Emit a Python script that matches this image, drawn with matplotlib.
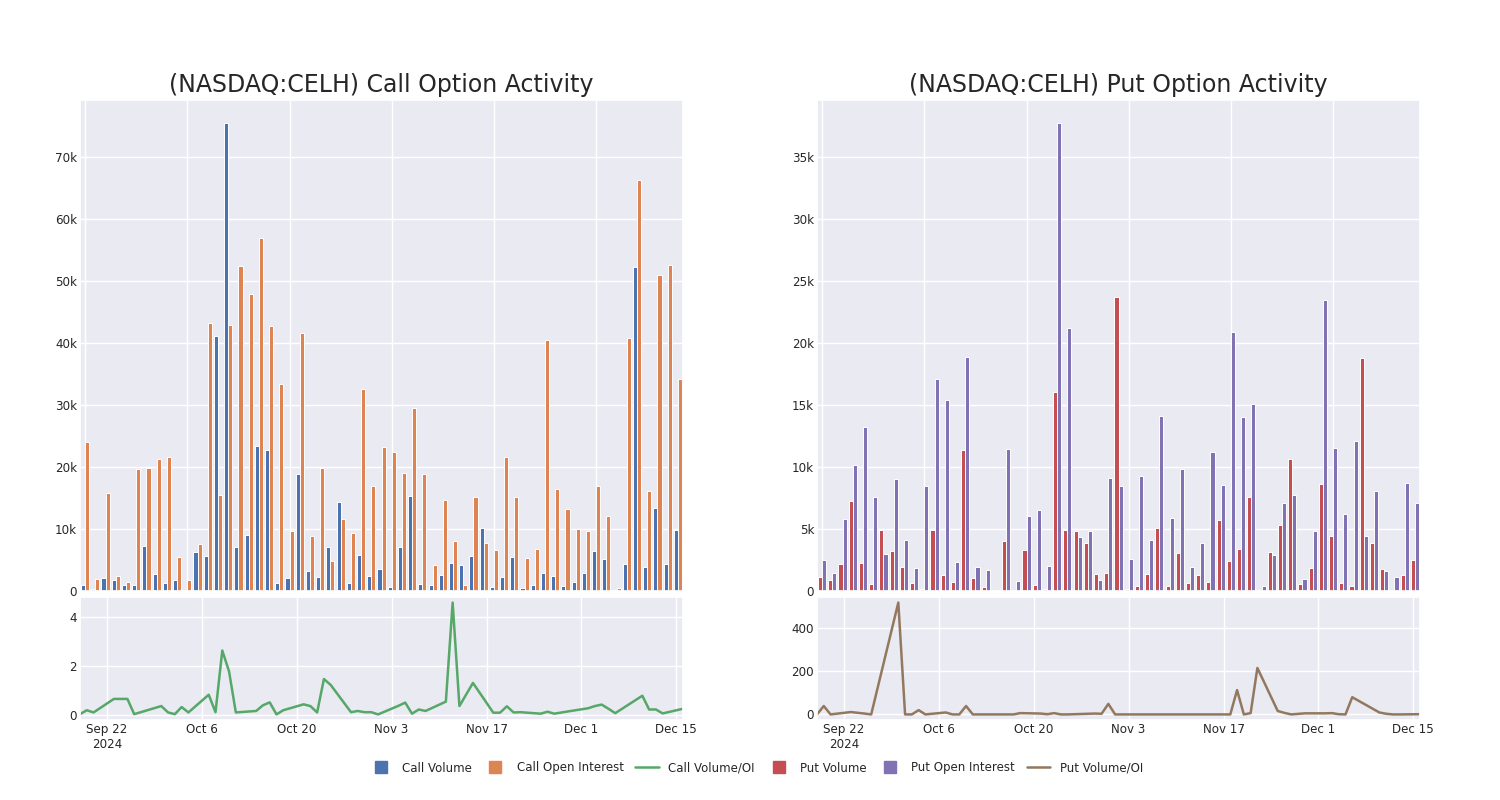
import matplotlib
matplotlib.use("Agg")
import matplotlib.pyplot as plt
import matplotlib.ticker as mticker
from matplotlib.lines import Line2D
import numpy as np
import pandas as pd
import seaborn as sns

sns.set_theme(style="darkgrid")
plt.rcParams['font.family'] = ['DejaVu Sans']

# ---------------- data ----------------
dates = ["2024-09-18", "2024-09-19", "2024-09-20", "2024-09-23", "2024-09-25", "2024-09-26",
         "2024-09-30", "2024-10-01", "2024-10-02", "2024-10-03", "2024-10-04",
         "2024-10-07", "2024-10-08", "2024-10-09", "2024-10-10", "2024-10-11",
         "2024-10-14", "2024-10-15", "2024-10-16", "2024-10-17", "2024-10-18",
         "2024-10-21", "2024-10-22", "2024-10-23", "2024-10-24", "2024-10-25",
         "2024-10-28", "2024-10-29", "2024-10-30", "2024-10-31", "2024-11-01",
         "2024-11-04", "2024-11-05", "2024-11-06", "2024-11-07", "2024-11-08",
         "2024-11-11", "2024-11-12", "2024-11-13", "2024-11-15",
         "2024-11-18", "2024-11-19", "2024-11-20", "2024-11-21", "2024-11-22",
         "2024-11-25", "2024-11-26", "2024-11-27", "2024-11-29",
         "2024-12-02", "2024-12-03", "2024-12-04", "2024-12-05", "2024-12-06",
         "2024-12-10", "2024-12-11", "2024-12-12", "2024-12-13", "2024-12-16"]

call_volume_k = [1.0, 0.3, 2.1, 1.7, 0.9, 1.0, 7.3, 2.75, 1.3, 1.8,
                 0.2, 6.3, 5.7, 41.1, 75.5, 7.1, 9.0, 23.4, 22.7, 1.35,
                 2.1, 18.9, 3.3, 2.2, 7.1, 14.4, 1.3, 5.8, 2.4, 3.5,
                 0.65, 7.1, 15.4, 1.1, 0.9, 2.6, 4.6, 4.2, 5.6, 10.25,
                 0.65, 2.3, 5.5, 0.55, 0.9, 2.9, 2.5, 0.8, 1.5, 2.9,
                 6.4, 5.1, 0.15, 4.3, 52.35, 3.9, 13.4, 4.4, 9.9]
call_oi_k = [24.0, 1.9, 15.9, 2.5, 1.4, 19.7, 19.9, 21.3, 21.7, 5.45,
             1.8, 7.6, 43.2, 15.5, 42.9, 52.5, 48.0, 57.0, 42.8, 33.5,
             9.7, 41.6, 8.8, 19.9, 4.8, 11.55, 9.3, 32.65, 16.9, 23.2,
             22.5, 19.1, 29.5, 18.9, 4.2, 14.7, 8.1, 0.9, 15.1, 7.8,
             6.7, 21.7, 15.2, 5.3, 6.75, 40.6, 16.5, 13.2, 10.0, 9.7,
             16.95, 12.1, 0.55, 40.8, 66.4, 16.1, 51.0, 52.6, 34.3]
call_ratio = [0.04, 0.20, 0.11, 0.66, 0.66, 0.04, 0.37, 0.11, 0.04, 0.33,
              0.11, 0.83, 0.12, 2.63, 1.78, 0.11, 0.17, 0.40, 0.52, 0.03,
              0.20, 0.44, 0.37, 0.11, 1.47, 1.23, 0.12, 0.17, 0.12, 0.12,
              0.03, 0.38, 0.51, 0.06, 0.23, 0.17, 0.55, 4.58, 0.37, 1.31,
              0.10, 0.10, 0.36, 0.11, 0.12, 0.06, 0.14, 0.06, 0.15, 0.28,
              0.37, 0.43, 0.26, 0.08, 0.79, 0.23, 0.23, 0.07, 0.26]

put_volume_k = [1.13, 0.86, 2.2, 7.27, 2.26, 0.54, 4.95, 3.26, 1.97, 0.62,
                0.16, 4.95, 1.29, 0.73, 11.34, 1.08, 0.32, 0.0, 4.0, 0.05,
                3.3, 0.48, 0.16, 16.05, 4.95, 4.87, 3.88, 1.4, 1.43, 23.67,
                0.16, 0.4, 1.35, 5.06, 0.4, 3.07, 0.67, 1.32, 0.75, 5.71,
                2.45, 3.39, 7.59, 0.08, 3.18, 5.28, 10.6, 0.57, 1.83, 8.59,
                4.44, 0.62, 0.4, 18.74, 3.9, 1.78, 0.05, 1.32, 2.48]
put_oi_k = [2.53, 1.45, 5.84, 10.18, 13.19, 7.54, 2.96, 8.99, 4.12, 1.88,
            8.43, 17.04, 15.4, 2.37, 18.87, 1.94, 1.67, 0.0, 11.4, 0.83,
            6.08, 6.54, 1.99, 37.67, 21.16, 4.39, 4.87, 0.89, 9.07, 8.45,
            2.56, 9.24, 4.09, 14.1, 5.92, 9.8, 1.94, 3.85, 11.17, 8.54,
            20.87, 14.03, 15.1, 0.43, 2.93, 7.08, 7.73, 0.94, 4.85, 23.45,
            11.5, 6.22, 12.06, 4.42, 8.08, 1.64, 1.13, 8.72, 7.08]
put_ratio = [0, 39, 0, 11, 4, 0, 520, 0, 0, 20,
             0, 9, 0, 0, 39, 0, 0, 0, 0, 0,
             6, 4, 1, 6, 0, 0, 3, 4, 3, 49,
             0, 0, 0, 0, 0, 0, 0, 0, 0, 0,
             0, 113, 0, 6, 216, 16, 7, 0, 5, 5,
             6, 1, 0, 80, 9, 3, 0, 0, 1]

date_ticks = ["2024-09-22", "2024-10-06", "2024-10-20", "2024-11-03",
              "2024-11-17", "2024-12-01", "2024-12-15"]
date_tick_labels = ["Sep 22\n2024", "Oct 6", "Oct 20", "Nov 3", "Nov 17", "Dec 1", "Dec 15"]
call_ratio_ticks = [0, 2, 4]
put_ratio_ticks = [0, 200, 400]

titles = ["(NASDAQ:CELH) Call Option Activity", "(NASDAQ:CELH) Put Option Activity"]
labels = ["Call Volume", "Call Open Interest", "Call Volume/OI",
          "Put Volume", "Put Open Interest", "Put Volume/OI"]

# ---------------- styling ----------------
C_BLUE, C_ORANGE, C_GREEN = "#4C72B0", "#DD8452", "#55A868"
C_RED, C_PURPLE, C_BROWN = "#C44E52", "#8172B3", "#937860"
FS = 8.6

dt = pd.to_datetime(dates)
tick_dt = pd.to_datetime(date_ticks)
x = np.arange(len(dates))

fig = plt.figure(figsize=(15, 8), dpi=100)

def kfmt(v, p):
    if v == 0:
        return "0"
    return f"{v/1000:.0f}k"

panels = [
    (80, call_volume_k, call_oi_k, call_ratio, C_BLUE, C_ORANGE, C_GREEN, call_ratio_ticks, titles[0]),
    (817, put_volume_k, put_oi_k, put_ratio, C_RED, C_PURPLE, C_BROWN, put_ratio_ticks, titles[1]),
]

for left_px, vol, oi, ratio, c1, c2, c3, rticks, title in panels:
    l = left_px / 1500
    w = 603 / 1500
    ax_top = fig.add_axes([l, 1 - 591 / 800, w, (591 - 100) / 800])
    ax_bot = fig.add_axes([l, 1 - 720 / 800, w, (720 - 597) / 800])

    v = np.array(vol) * 1000
    o = np.array(oi) * 1000
    ax_top.bar(x - 0.2, v, width=0.4, color=c1, edgecolor="white", linewidth=0.7)
    ax_top.bar(x + 0.2, o, width=0.4, color=c2, edgecolor="white", linewidth=0.7)
    ax_top.set_xlim(-0.5, len(x) - 0.5)
    ax_top.set_xticks(np.arange(0, len(x), 10))
    ax_top.tick_params(labelbottom=False, length=0)
    ax_top.yaxis.set_major_formatter(mticker.FuncFormatter(kfmt))
    ax_top.tick_params(axis="y", labelsize=FS, pad=2, length=0)
    ax_top.set_title(title, fontsize=17, color=".15")

    ax_bot.plot(dt, ratio, color=c3, linewidth=1.8)
    ax_bot.set_xlim(dt[0], dt[-1])
    ax_bot.set_xticks(tick_dt)
    ax_bot.set_xticklabels(date_tick_labels)
    ax_bot.set_yticks(rticks)
    ax_bot.tick_params(labelsize=FS, pad=2, length=0)

handles = [
    Line2D([], [], marker="s", linestyle="none", color=C_BLUE, markersize=9),
    Line2D([], [], marker="s", linestyle="none", color=C_ORANGE, markersize=9),
    Line2D([], [], color=C_GREEN, linewidth=1.8),
    Line2D([], [], marker="s", linestyle="none", color=C_RED, markersize=9),
    Line2D([], [], marker="s", linestyle="none", color=C_PURPLE, markersize=9),
    Line2D([], [], color=C_BROWN, linewidth=1.8),
]
fig.legend(handles, labels, loc="center", bbox_to_anchor=(0.504, 0.04), ncol=6,
           frameon=False, fontsize=8.5, columnspacing=1.0)

fig.savefig("out.png", dpi=100)
